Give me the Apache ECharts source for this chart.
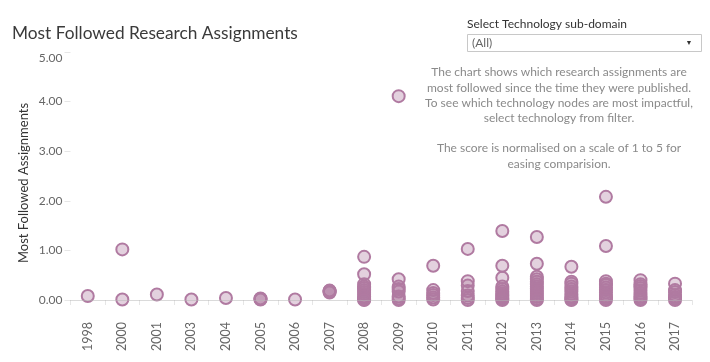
<!DOCTYPE html>
<html>
<head>
<meta charset="utf-8">
<script src="https://cdn.jsdelivr.net/npm/echarts@6/dist/echarts.min.js"></script>
<style>
html,body{margin:0;padding:0;background:#fff;}
#chart{width:710px;height:362px;}
</style>
</head>
<body>
<div id="chart"></div>
<script>
// ---- data ----
const years = ['1998','2000','2001','2003','2004','2005','2006','2007','2008','2009','2010','2011','2012','2013','2014','2015','2016','2017'];
const scores1998 = [0.08];
const scores2000 = [1.02, 0.01];
const scores2001 = [0.11];
const scores2003 = [0.01];
const scores2004 = [0.04];
const scores2005 = [0.01, 0.02, 0.03];
const scores2006 = [0.01];
const scores2007 = [0.15, 0.17, 0.19, 0.18];
const scores2008 = [0.87, 0.52, 0.32, 0.27, 0.24, 0.20, 0.16, 0.12, 0.07, 0.04, 0.01, 0.0];
const scores2009 = [4.11, 0.42, 0.27, 0.22, 0.17, 0.07, 0.03, 0.0];
const scores2010 = [0.69, 0.20, 0.14, 0.10, 0.05, 0.01];
const scores2011 = [1.03, 0.38, 0.29, 0.18, 0.09, 0.04, 0.0];
const scores2012 = [1.39, 0.69, 0.45, 0.27, 0.22, 0.17, 0.13, 0.10, 0.07, 0.04, 0.02, 0.0];
const scores2013 = [1.27, 0.73, 0.47, 0.42, 0.37, 0.32, 0.27, 0.22, 0.18, 0.14, 0.10, 0.06, 0.02, 0.0];
const scores2014 = [0.67, 0.37, 0.33, 0.27, 0.22, 0.17, 0.12, 0.07, 0.04, 0.01, 0.0];
const scores2015 = [2.08, 1.09, 0.38, 0.33, 0.30, 0.25, 0.20, 0.15, 0.10, 0.06, 0.03, 0.0];
const scores2016 = [0.40, 0.32, 0.28, 0.24, 0.19, 0.14, 0.10, 0.06, 0.03, 0.0];
const scores2017 = [0.33, 0.20, 0.16, 0.10, 0.06, 0.03, 0.0];
const scoresByYear = [scores1998, scores2000, scores2001, scores2003, scores2004, scores2005, scores2006, scores2007, scores2008, scores2009, scores2010, scores2011, scores2012, scores2013, scores2014, scores2015, scores2016, scores2017];
const yTicks = [0, 1, 2, 3, 4, 5];

const titleText = 'Most Followed Research Assignments';
const yAxisTitle = 'Most Followed Assignments';
const filterLabel = 'Select Technology sub-domain';
const filterValue = '(All)';
const noteLines = [
  'The chart shows which research assignments are',
  'most followed since the time they were published.',
  'To see which technology nodes are most impactful,',
  'select technology from filter.',
  '',
  'The score is normalised on a scale of 1 to 5 for',
  'easing comparision.'
];

// ---- build ----
const points = [];
scoresByYear.forEach((arr, i) => arr.forEach(v => points.push([years[i], v])));

const FONT = 'Lato, "Open Sans", sans-serif';
const noteY = [72, 88, 103, 118, 133, 148, 164];
const graphics = [
  {type:'text', left:12, top:25, style:{text:titleText, font:'17.3px ' + FONT, fill:'#3a3a3a'}},
  {type:'text', x:24, y:183, rotation:Math.PI/2, style:{text:yAxisTitle, font:'13px ' + FONT, fill:'#333', align:'center', verticalAlign:'middle'}},
  {type:'text', x:467, y:24, style:{text:filterLabel, font:'12px ' + FONT, fill:'#333', verticalAlign:'middle'}},
  {type:'rect', shape:{x:467.5, y:34.5, width:234, height:17}, style:{fill:'#fff', stroke:'#c8c8c8', lineWidth:1}},
  {type:'text', x:472, y:43, style:{text:filterValue, font:'12px ' + FONT, fill:'#666', verticalAlign:'middle'}},
  {type:'text', x:689, y:43, style:{text:'\u25BC', font:'7px ' + FONT, fill:'#333', align:'center', verticalAlign:'middle'}}
];
noteLines.forEach((t, i) => {
  if (t) graphics.push({type:'text', x:559, y:noteY[i], style:{text:t, font:'12px ' + FONT, fill:'#8a8a8a', align:'center', verticalAlign:'middle'}});
});

const chart = echarts.init(document.getElementById('chart'), null, {renderer:'canvas'});
chart.setOption({
  animation:false,
  backgroundColor:'#fff',
  textStyle:{fontFamily:FONT},
  grid:{left:70.5, right:17.7, top:52, bottom:62, containLabel:false},
  xAxis:{
    type:'category', data:years, boundaryGap:true, offset:16,
    axisLine:{show:false},
    axisTick:{show:true, length:5, lineStyle:{color:'#e6e6e6'}},
    axisLabel:{rotate:90, margin:6, color:'#666', fontSize:12.5, fontFamily:FONT},
    splitLine:{show:false}
  },
  yAxis:{
    type:'value', min:yTicks[0], max:yTicks[yTicks.length-1], interval:1,
    axisLine:{show:false},
    axisTick:{show:true, length:6, lineStyle:{color:'#e6e6e6'}},
    axisLabel:{margin:8, color:'#666', fontSize:12, fontFamily:FONT, formatter:v => v.toFixed(2), verticalAlignMaxLabel:'top'},
    splitLine:{show:false}
  },
  series:[{
    type:'scatter', data:points, symbol:'circle', symbolSize:12, clip:false,
    itemStyle:{color:'rgba(176,122,161,0.35)', borderColor:'#b07aa1', borderWidth:2, opacity:1},
    markLine:{silent:true, symbol:['none','none'], label:{show:false},
      lineStyle:{color:'#b5b5b5', type:'dotted', width:1},
      data:[{yAxis:0}]},
    z:3
  }],
  graphic:graphics
});
</script>
</body>
</html>
